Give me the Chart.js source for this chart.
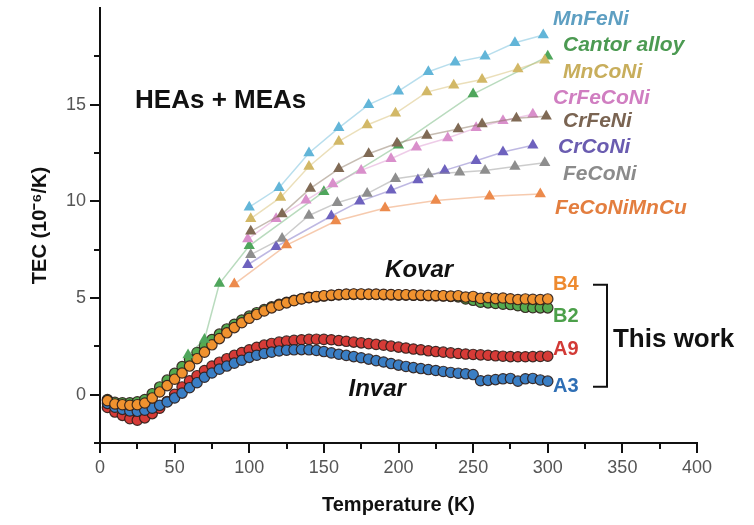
<!DOCTYPE html>
<html>
<head>
<meta charset="utf-8">
<script src="https://cdn.jsdelivr.net/npm/chart.js@4.4.1/dist/chart.umd.min.js"></script>
<style>
  html,body{margin:0;padding:0;background:#fff;}
  #c{display:block;}
</style>
</head>
<body>
<canvas id="c" width="754" height="525"></canvas>
<script>
// ---------------- DATA ----------------
// Literature HEAs / MEAs (triangles)
const mnfeniT = [100,120,140,160,180,200,220,238,258,278,297];
const mnfeniV = [9.7,10.7,12.5,13.8,15.0,15.7,16.7,17.2,17.5,18.2,18.6];
const cantorT = [59,70,80,100,150,200,250,300];
const cantorV = [2.05,2.85,5.75,7.7,10.5,12.9,15.55,17.5];
const mnconiT = [101,121,140,160,179,198,219,237,256,280,298];
const mnconiV = [9.1,10.2,11.8,13.1,13.95,14.55,15.65,16.0,16.3,16.85,17.3];
const crfeconiT = [99,118,138,156,175,195,212,233,252,270,290];
const crfeconiV = [8.05,9.1,10.05,10.9,11.6,12.2,12.8,13.28,13.8,14.17,14.5];
const crfeniT = [101,122,141,160,180,199,219,240,256,279,299];
const crfeniV = [8.45,9.35,10.67,11.68,12.46,13.0,13.4,13.74,14.0,14.3,14.4];
const crconiT = [99,118,155,174,195,213,231,252,270,290];
const crconiV = [6.72,7.65,9.24,10.0,10.57,11.1,11.6,12.1,12.55,12.9];
const feconiT = [101,122,140,159,179,198,220,241,258,278,298];
const feconiV = [7.24,8.08,9.27,9.93,10.4,11.17,11.41,11.5,11.6,11.8,12.0];
const feconimncuT = [90,125,158,191,225,261,295];
const feconimncuV = [5.72,7.74,8.98,9.66,10.04,10.26,10.38];

// This work (circles), temperature grid in K
const workT = [5,10,15,20,25,30,35,40,45,50,55,60,65,70,75,80,85,90,95,100,
  105,110,115,120,125,130,135,140,145,150,155,160,165,170,175,180,185,190,195,200,
  205,210,215,220,225,230,235,240,245,250,255,260,265,270,275,280,285,290,295,300];
const b4V = [-0.31,-0.48,-0.52,-0.55,-0.52,-0.43,-0.17,0.14,0.47,0.80,1.12,1.48,1.86,2.20,2.58,2.90,3.20,3.47,3.72,3.95,
  4.15,4.33,4.49,4.63,4.75,4.86,4.95,5.02,5.08,5.12,5.15,5.18,5.20,5.21,5.21,5.20,5.20,5.19,5.18,5.17,
  5.17,5.16,5.15,5.14,5.13,5.12,5.10,5.12,5.05,5.08,4.98,5.02,4.97,5.00,4.96,4.92,4.95,4.93,4.92,4.95];
const b2V = [-0.25,-0.40,-0.42,-0.42,-0.37,-0.25,0.05,0.40,0.75,1.10,1.45,1.82,2.18,2.52,2.85,3.13,3.40,3.64,3.86,4.06,
  4.24,4.40,4.54,4.67,4.78,4.88,4.96,5.03,5.06,5.10,5.13,5.16,5.18,5.19,5.19,5.18,5.18,5.17,5.16,5.15,
  5.15,5.14,5.13,5.12,5.11,5.10,5.08,5.06,4.95,4.88,4.78,4.75,4.72,4.68,4.66,4.60,4.52,4.50,4.49,4.49];
const a9V = [-0.66,-0.90,-1.07,-1.24,-1.32,-1.20,-0.98,-0.70,-0.35,0.02,0.40,0.72,0.98,1.25,1.48,1.68,1.86,2.03,2.18,2.32,
  2.45,2.56,2.65,2.72,2.77,2.81,2.84,2.86,2.87,2.86,2.84,2.80,2.76,2.72,2.68,2.64,2.60,2.56,2.51,2.46,
  2.41,2.36,2.32,2.27,2.23,2.20,2.16,2.13,2.10,2.08,2.06,2.04,2.01,1.99,1.97,1.96,1.96,1.97,1.98,1.99];
const a3V = [-0.45,-0.65,-0.76,-0.84,-0.86,-0.80,-0.70,-0.55,-0.38,-0.17,0.08,0.36,0.62,0.90,1.12,1.32,1.48,1.63,1.78,1.93,
  2.04,2.13,2.20,2.26,2.30,2.32,2.33,2.32,2.29,2.23,2.16,2.09,2.03,1.97,1.91,1.84,1.76,1.69,1.61,1.53,
  1.46,1.40,1.35,1.30,1.25,1.20,1.15,1.11,1.08,1.04,0.72,0.74,0.78,0.82,0.84,0.70,0.82,0.84,0.76,0.70];

// Tick labels and tick marks
const xLabelTicks = [0,50,100,150,200,250,300,350,400];
const xMarkTicks = [0,25,50,75,100,125,150,175,200,225,250,275,300,325,350,375,400];
const yLabelTicks = [0,5,10,15];
const yMarkTicks = [-2.5,0,2.5,5,7.5,10,12.5,15,17.5];

// ---------------- HELPERS ----------------
const FONT = '"Liberation Sans", Arial, Helvetica, sans-serif';
function pts(t, v){ return t.map((x,i)=>({x:x, y:v[i]})); }
function triSet(label, t, v, col, lineCol){
  return {label, data:pts(t,v), showLine:true, borderColor:lineCol, borderWidth:1.5,
    pointStyle:'triangle', pointRadius:6.5, pointBackgroundColor:col, pointBorderColor:col,
    pointBorderWidth:0, tension:0, fill:false};
}
function circSet(label, v, col){
  return {label, data:pts(workT, v), showLine:false, pointStyle:'circle', pointRadius:5.2,
    pointBackgroundColor:col, pointBorderColor:'rgba(45,30,25,0.9)', pointBorderWidth:1.2};
}

const datasets = [
  triSet('FeCoNiMnCu', feconimncuT, feconimncuV, '#EC8A4C', 'rgba(236,138,76,0.45)'),
  triSet('FeCoNi', feconiT, feconiV, '#8E8E8E', 'rgba(142,142,142,0.45)'),
  triSet('CrCoNi', crconiT, crconiV, '#6E62BE', 'rgba(110,98,190,0.45)'),
  triSet('CrFeNi', crfeniT, crfeniV, '#806A55', 'rgba(128,106,85,0.45)'),
  triSet('CrFeCoNi', crfeconiT, crfeconiV, '#D98FCB', 'rgba(217,143,203,0.45)'),
  triSet('MnCoNi', mnconiT, mnconiV, '#D2B867', 'rgba(210,184,103,0.45)'),
  triSet('Cantor alloy', cantorT, cantorV, '#4FA65C', 'rgba(79,166,92,0.40)'),
  triSet('MnFeNi', mnfeniT, mnfeniV, '#62B5D8', 'rgba(98,181,216,0.45)'),
  circSet('B4', b4V, '#F0922F'),
  circSet('B2', b2V, '#55AA4F'),
  circSet('A3', a3V, '#3A7EC4'),
  circSet('A9', a9V, '#D63B37'),
];

// Annotation texts (positions in data units)
const notes = [
  {text:'HEAs + MEAs', x:23.5, y:15.2, color:'#111', font:'bold 26px '+FONT},
  {text:'MnFeNi', x:303.5, y:19.4, color:'#5E9FC2', font:'italic bold 21px '+FONT},
  {text:'Cantor alloy', x:310.2, y:18.05, color:'#4C9A52', font:'italic bold 21px '+FONT},
  {text:'MnCoNi', x:310.2, y:16.7, color:'#C8AE5C', font:'italic bold 21px '+FONT},
  {text:'CrFeCoNi', x:303.5, y:15.36, color:'#D07EC1', font:'italic bold 21px '+FONT},
  {text:'CrFeNi', x:310.2, y:14.17, color:'#7A6452', font:'italic bold 21px '+FONT},
  {text:'CrCoNi', x:306.9, y:12.78, color:'#6A5CB0', font:'italic bold 21px '+FONT},
  {text:'FeCoNi', x:310.2, y:11.38, color:'#8B8B8B', font:'italic bold 21px '+FONT},
  {text:'FeCoNiMnCu', x:304.9, y:9.67, color:'#E37E3F', font:'italic bold 21px '+FONT},
  {text:'Kovar', x:191, y:6.41, color:'#111', font:'italic bold 24px '+FONT},
  {text:'Invar', x:166.5, y:0.26, color:'#111', font:'italic bold 24px '+FONT},
  {text:'B4', x:303.5, y:5.69, color:'#EE8A2F', font:'bold 20px '+FONT},
  {text:'B2', x:303.5, y:4.03, color:'#4CA04A', font:'bold 20px '+FONT},
  {text:'A9', x:303.5, y:2.33, color:'#D23A36', font:'bold 20px '+FONT},
  {text:'A3', x:303.5, y:0.41, color:'#2F6FB5', font:'bold 20px '+FONT},
  {text:'This work', x:343.7, y:2.85, color:'#111', font:'bold 26px '+FONT},
];
const bracket = {x0:330.3, x1:339.7, yTop:5.69, yBot:0.41};

const decorPlugin = {
  id:'decor',
  afterDraw(chart){
    const ctx = chart.ctx, xs = chart.scales.x, ys = chart.scales.y;
    ctx.save();
    ctx.strokeStyle = '#111'; ctx.lineWidth = 2;
    const ax = xs.left, ay = ys.bottom;
    yMarkTicks.forEach(v=>{
      const p = Math.round(ys.getPixelForValue(v));
      const len = (v % 5 === 0) ? 10 : 6;
      ctx.beginPath(); ctx.moveTo(ax - len, p); ctx.lineTo(ax, p); ctx.stroke();
    });
    xMarkTicks.forEach(v=>{
      const p = Math.round(xs.getPixelForValue(v));
      const len = (v % 50 === 0) ? 10 : 6;
      ctx.beginPath(); ctx.moveTo(p, ay); ctx.lineTo(p, ay + len); ctx.stroke();
    });
    const bx0 = xs.getPixelForValue(bracket.x0), bx1 = xs.getPixelForValue(bracket.x1);
    const by0 = ys.getPixelForValue(bracket.yTop), by1 = ys.getPixelForValue(bracket.yBot);
    ctx.beginPath();
    ctx.moveTo(bx0, by0); ctx.lineTo(bx1, by0); ctx.lineTo(bx1, by1); ctx.lineTo(bx0, by1);
    ctx.stroke();
    ctx.textAlign = 'left'; ctx.textBaseline = 'middle';
    notes.forEach(n=>{
      ctx.font = n.font; ctx.fillStyle = n.color;
      ctx.fillText(n.text, xs.getPixelForValue(n.x), ys.getPixelForValue(n.y));
    });
    ctx.restore();
  }
};

new Chart(document.getElementById('c'), {
  type:'scatter',
  data:{datasets},
  plugins:[decorPlugin],
  options:{
    responsive:false, animation:false, devicePixelRatio:1,
    layout:{padding:{left:0, right:57, top:8, bottom:0}},
    plugins:{legend:{display:false}, tooltip:{enabled:false}},
    scales:{
      x:{
        type:'linear', min:0, max:400,
        afterBuildTicks:s=>{ s.ticks = xLabelTicks.map(v=>({value:v})); },
        afterFit:s=>{ s.height = 82; s.paddingLeft = 0; s.paddingRight = 0; },
        grid:{display:false, drawTicks:false},
        border:{display:true, color:'#111', width:2},
        ticks:{color:'#555', font:{size:18, family:FONT}, padding:14, maxRotation:0, autoSkip:false},
        title:{display:true, text:'Temperature (K)', color:'#111',
          font:{size:20, weight:'bold', family:FONT}, padding:{top:0, bottom:8}}
      },
      y:{
        type:'linear', min:-2.5, max:20,
        afterBuildTicks:s=>{ s.ticks = yLabelTicks.map(v=>({value:v})); },
        afterFit:s=>{ s.width = 100; s.paddingTop = 0; s.paddingBottom = 0; },
        grid:{display:false, drawTicks:false},
        border:{display:true, color:'#111', width:2},
        ticks:{color:'#555', font:{size:18, family:FONT}, padding:14, autoSkip:false},
        title:{display:true, text:'TEC (10⁻⁶/K)', color:'#111',
          font:{size:20, weight:'bold', family:FONT}, padding:{top:28, bottom:0}}
      }
    }
  }
});
</script>
</body>
</html>
